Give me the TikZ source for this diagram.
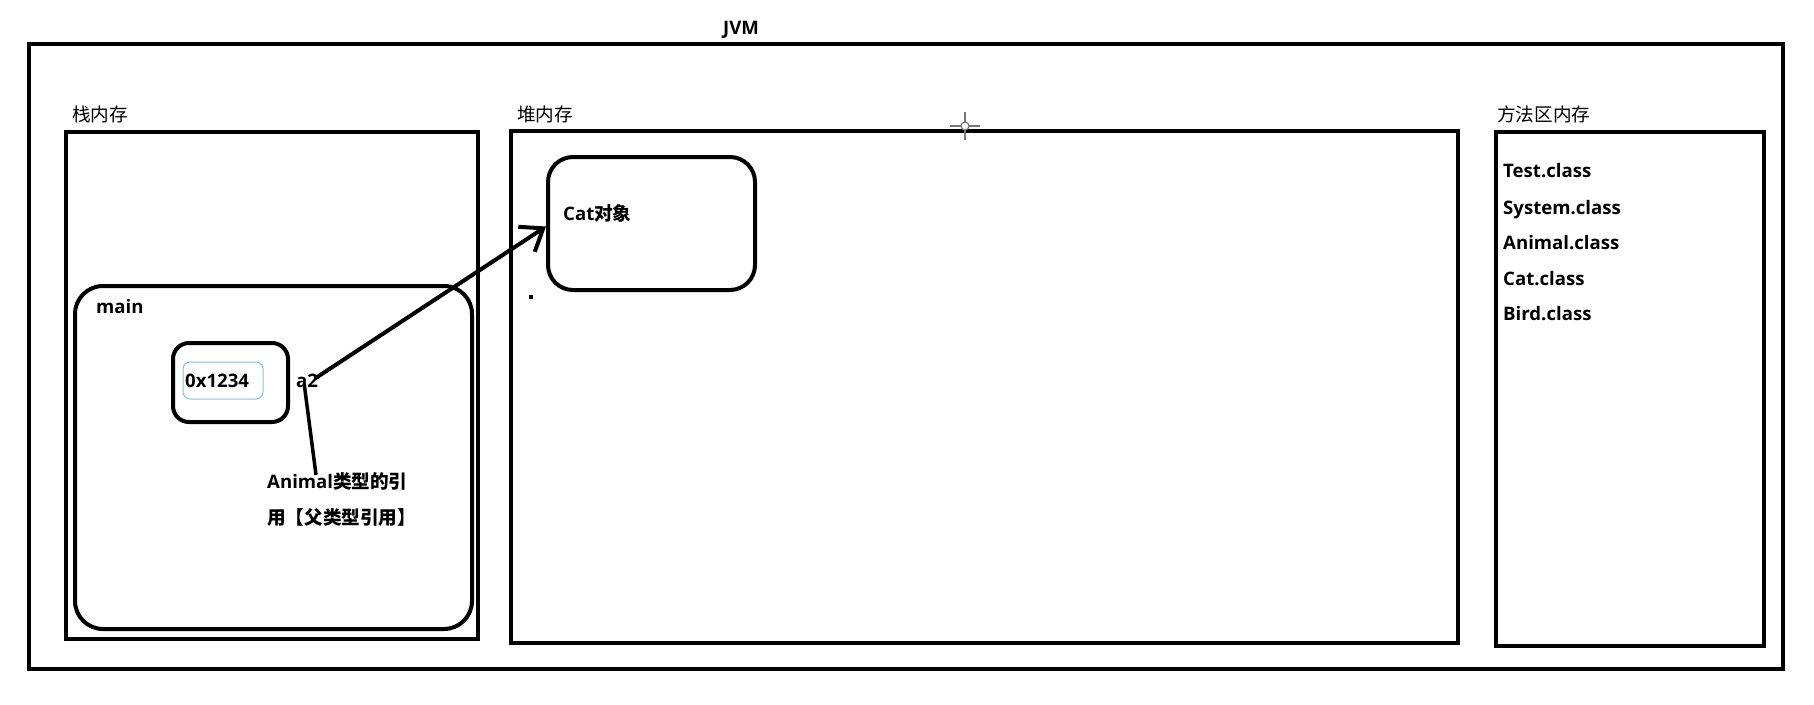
\documentclass[tikz,border=0pt]{standalone}
\usepackage{fontspec}
\setmainfont{Open Sans}
\newfontfamily\cjk{Noto Sans CJK SC}
\usetikzlibrary{arrows.meta}
\definecolor{thinblue}{HTML}{7EC3E6}
\definecolor{cursorgray}{HTML}{777777}
\begin{document}
\begin{tikzpicture}[x=1pt,y=-1pt,
  box/.style={draw=black, line width=4pt, inner sep=0pt, minimum width=#1},
  rbox/.style={box=#1, rounded corners=26pt},
  lbl/.style={inner sep=0pt, anchor=base west, font=\fontsize{18.6}{22}\selectfont},
  blbl/.style={lbl, font=\fontsize{18.6}{22}\selectfont\bfseries},
  arrowline/.style={line width=4pt, -{Straight Barb[length=20pt,width=30pt]}},
  callout/.style={line width=3.5pt}
]
\useasboundingbox (0,0) rectangle (1814,704);
% outer JVM box
\node[box=1754pt, minimum height=625pt] (jvm) at (906,356.5) {};
\node[blbl] (jvmt) at (723,34) {JVM};
% stack memory
\node[box=412pt, minimum height=507pt] (stack) at (272,385.5) {};
\node[lbl] (stackt) at (72,121) {\cjk 栈内存};
\node[rbox=397pt, minimum height=343pt, rounded corners=28pt] (main) at (273.5,457.5) {};
\node[blbl] (maint) at (96,313) {main};
\node[rbox=115pt, minimum height=79pt, rounded corners=16pt] (addr) at (230.5,382.5) {};
\node[draw=thinblue, line width=1pt, rounded corners=7pt, minimum width=80pt, minimum height=37pt, inner sep=0pt] (addrin) at (223,380.5) {};
\node[blbl] (addrt) at (185,387) {0x1234};
\node[blbl] (a2) at (296,387) {a2};
\node[blbl] (ann1) at (267,488) {Animal{\cjk 类型的引}};
\node[blbl] (ann2) at (267,524) {\cjk 用【父类型引用】};
% heap memory
\node[box=947pt, minimum height=512pt] (heap) at (984.5,387) {};
\node[lbl] (heapt) at (517,121) {\cjk 堆内存};
\node[rbox=207pt, minimum height=133pt, rounded corners=25pt] (cat) at (651.5,223.5) {};
\node[blbl] (catt) at (563,220) {Cat{\cjk 对象}};
\fill (529,295) rectangle (533,299);
% method area
\node[box=268pt, minimum height=514pt] (method) at (1630,389) {};
\node[lbl] (methodt) at (1497,121) {\cjk 方法区内存};
\node[blbl] (c1) at (1503,177) {Test.class};
\node[blbl] (c2) at (1503,214) {System.class};
\node[blbl] (c3) at (1503,249) {Animal.class};
\node[blbl] (c4) at (1503,285) {Cat.class};
\node[blbl] (c5) at (1503,320) {Bird.class};
% connectors
\coordinate (astart) at ([xshift=-3pt,yshift=-5pt]a2.north east);
\draw[arrowline] (astart) -- ([yshift=-3pt]cat.west);
\coordinate (cstart) at ([xshift=-3pt,yshift=4pt]a2.south);
\coordinate (cend) at ([xshift=49pt,yshift=-3pt]ann1.north west);
\draw[callout] (cstart) -- (cend);
% cursor crosshair
\draw[cursorgray, line width=1.3pt] (965,112) -- (965,140) (950,126) -- (980,126);
\draw[cursorgray, line width=1.2pt, fill=white] (965,126) circle (4);
\end{tikzpicture}
\end{document}
